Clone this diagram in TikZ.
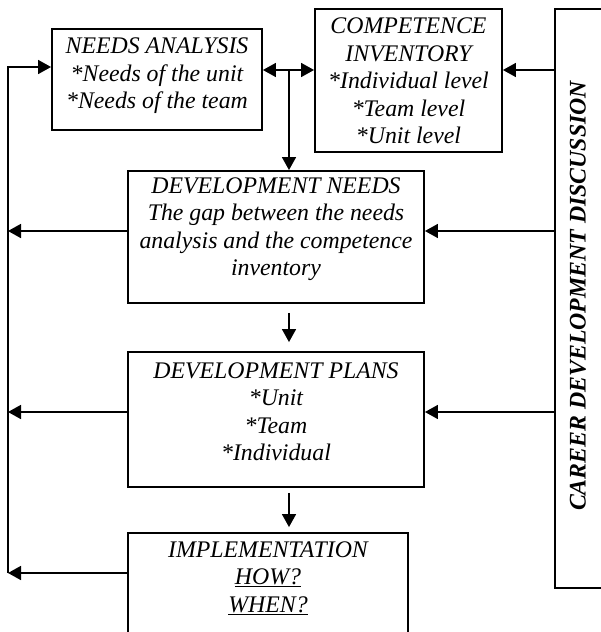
\documentclass[tikz,border=0pt]{standalone}
\usepackage{fontspec}
\setmainfont{Liberation Serif}
\usetikzlibrary{arrows.meta}
\begin{document}
\begin{tikzpicture}[x=1pt,y=-1pt,
  box/.style={draw, line width=1.9pt, inner sep=0pt},
  txt/.style={align=center, font=\fontsize{23.8}{27.5}\selectfont\itshape, inner sep=0pt},
  arr/.style={line width=1.7pt, -{Triangle[length=13pt,width=14pt]}},
  darr/.style={line width=1.7pt, {Triangle[length=13pt,width=14pt]}-{Triangle[length=13pt,width=14pt]}}]
\clip (0,0) rectangle (601,632);
% boxes
\node[box, minimum width=210pt, minimum height=101pt] (needs) at (157,79.5) {};
\node[box, minimum width=187pt, minimum height=143pt] (comp) at (408.5,80.5) {};
\node[box, minimum width=90pt, minimum height=579pt] (career) at (600,298.5) {};
\node[box, minimum width=296pt, minimum height=132pt] (dn) at (276,237) {};
\node[box, minimum width=296pt, minimum height=135pt] (dp) at (276,419.5) {};
\node[box, minimum width=280pt, minimum height=127pt] (impl) at (268,596.5) {};
% texts
\node[txt] (needst) at (157,76) {NEEDS ANALYSIS\\{*}Needs of the unit\\{*}Needs of the team};
\node[txt] (compt) at (408.5,81) {COMPETENCE\\INVENTORY\\{*}Individual level\\{*}Team level\\{*}Unit level};
\node[txt, font=\fontsize{23.8}{27.5}\selectfont\bfseries\itshape, rotate=90] (careert) at (578,296) {CAREER DEVELOPMENT DISCUSSION};
\node[txt] (dnt) at (276,229) {DEVELOPMENT NEEDS\\The gap between the needs\\analysis and the competence\\inventory};
\node[txt] (dpt) at (276,412) {DEVELOPMENT PLANS\\{*}Unit\\{*}Team\\{*}Individual};
\node[txt] (implt) at (268,578) {IMPLEMENTATION\\\underline{HOW?}\\\underline{WHEN?}};
% coordinates
\coordinate (lt) at (8,67);
\coordinate (l1) at (8,231);
\coordinate (l2) at (8,412);
\coordinate (lb) at (8,573);
\coordinate (j) at (289,70);
% left feedback loop
\draw[arr] (lb) -- (lt) -- (needs.west |- lt);
\draw[arr] (dn.west |- l1) -- (l1);
\draw[arr] (dp.west |- l2) -- (l2);
\draw[arr] (impl.west |- lb) -- (lb);
% top connections
\draw[darr] (needs.east |- j) -- (comp.west |- j);
\draw[arr] (j) -- (dn.north -| j);
\draw[arr] (career.west |- j) -- (comp.east |- j);
\draw[arr] (career.west |- l1) -- (dn.east |- l1);
\draw[arr] (career.west |- l2) -- (dp.east |- l2);
% downward flow
\draw[arr, shorten <=9pt, shorten >=9pt] (dn.south -| j) -- (dp.north -| j);
\draw[arr, shorten <=5pt, shorten >=5pt] (dp.south -| j) -- (impl.north -| j);
\end{tikzpicture}
\end{document}
